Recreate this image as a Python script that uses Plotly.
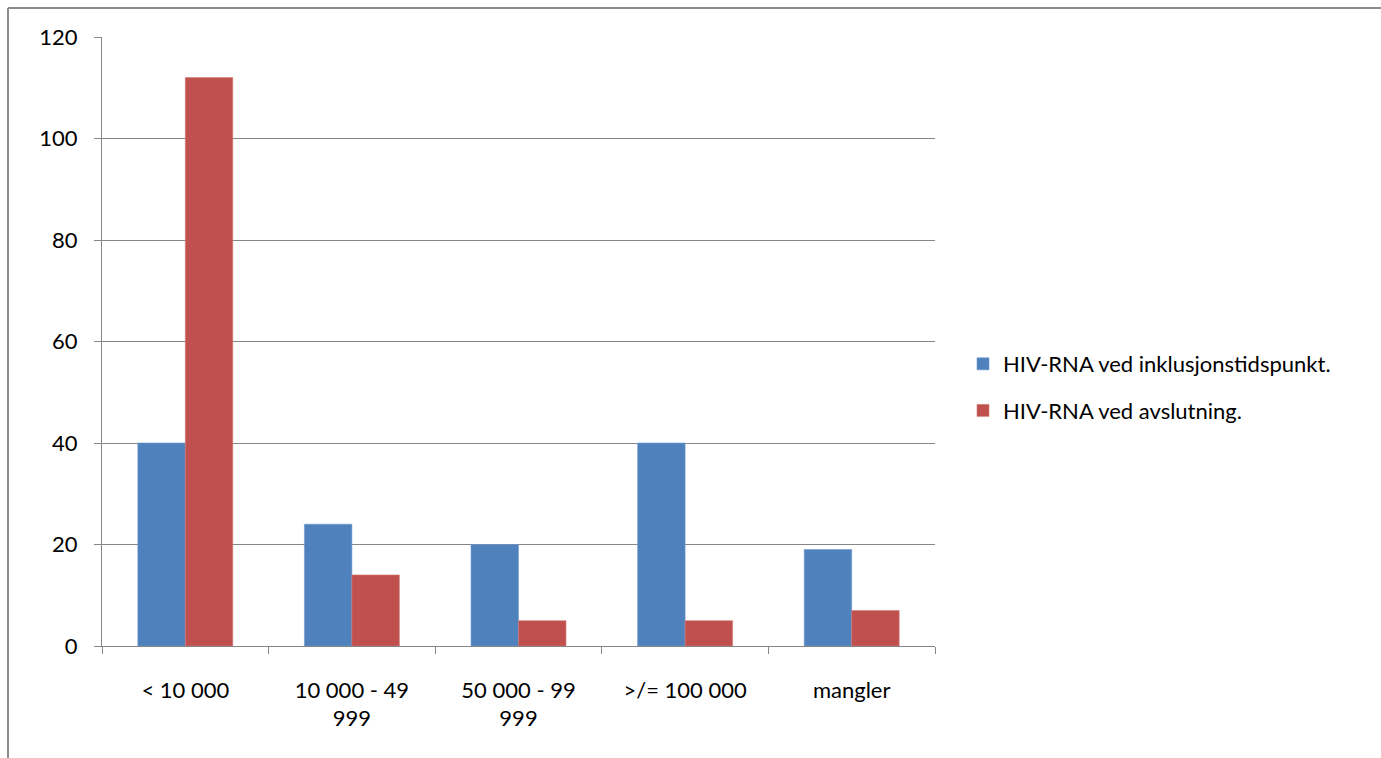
import plotly.graph_objects as go

categories = ["< 10 000", "10 000 - 49<br>999", "50 000 - 99<br>999", ">/= 100 000", "mangler"]
series_names = ["HIV-RNA ved inklusjonstidspunkt.", "HIV-RNA ved avslutning."]
inklusjon = [40, 24, 20, 40, 19]
avslutning = [112, 14, 5, 5, 7]
y_ticks = [0, 20, 40, 60, 80, 100, 120]

W, H = 1381, 758
L, R, T, B = 102, 935, 37, 646
pw, ph = R - L, B - T

def px(x):
    return (x - L) / pw

def py(y):
    return (B - y) / ph

font = dict(family="Lato, Open Sans, sans-serif", size=22, color="#000000")

fig = go.Figure()
fig.add_trace(go.Bar(x=categories, y=inklusjon, name=series_names[0], legendgroup="a",
                     marker=dict(color="#4F81BD", line=dict(color="#6f9ad0", width=0.6))))
fig.add_trace(go.Bar(x=categories, y=avslutning, name=series_names[1], legendgroup="b",
                     marker=dict(color="#C0504D", line=dict(color="#d27a77", width=0.6))))

fig.update_layout(
    width=W, height=H,
    margin=dict(l=L, r=W - R, t=T, b=H - B),
    paper_bgcolor="white", plot_bgcolor="white",
    barmode="group", bargap=0.43, bargroupgap=0,
    font=font,
    showlegend=True,
    legend=dict(x=px(963), y=py(343), xanchor="left", yanchor="top",
                font=font, tracegroupgap=15, itemwidth=30, bgcolor="rgba(0,0,0,0)"),
    xaxis=dict(type="category", tickson="boundaries", ticks="outside", ticklen=7,
               tickcolor="#868686", linecolor="#868686", linewidth=1.3, showline=True,
               showgrid=False, tickfont=font, ticklabelstandoff=24),
    yaxis=dict(range=[0, 120], tickvals=y_ticks, ticks="outside", ticklen=7,
               tickcolor="#868686", linecolor="#868686", linewidth=1.3, showline=True,
               showgrid=True, gridcolor="#868686", gridwidth=1.3, zeroline=False,
               tickfont=font, ticklabelstandoff=12),
    shapes=[
        dict(type="line", xref="paper", yref="paper", x0=px(8), x1=px(1381), y0=py(8), y1=py(8),
             line=dict(color="#8c8c8c", width=2)),
        dict(type="line", xref="paper", yref="paper", x0=px(8), x1=px(8), y0=py(8), y1=py(758),
             line=dict(color="#8c8c8c", width=2)),
    ],
)

fig.write_html("out.html", config={"displayModeBar": False},
               post_script="document.body.style.margin='0';")
